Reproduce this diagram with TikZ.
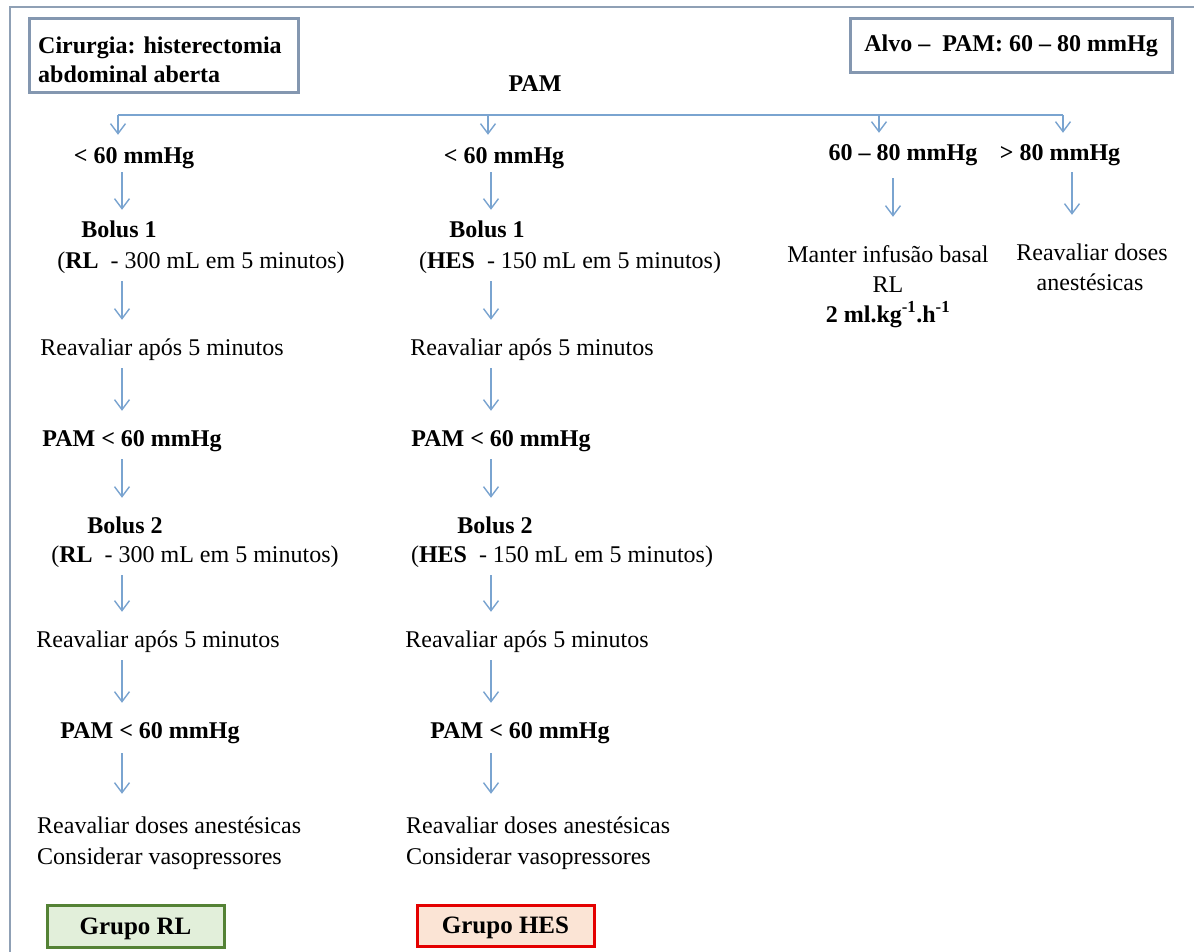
\documentclass[tikz,border=0pt]{standalone}
\usepackage{fontspec}
\setmainfont{Liberation Serif}
\usetikzlibrary{arrows.meta}
\definecolor{framec}{RGB}{143,160,181}
\definecolor{boxc}{RGB}{132,151,176}
\definecolor{arrc}{RGB}{122,164,208}
\definecolor{greenb}{RGB}{84,130,53}
\definecolor{greenf}{RGB}{226,239,218}
\definecolor{redb}{RGB}{228,0,0}
\definecolor{redf}{RGB}{251,228,213}
\tikzset{
  txt/.style={inner sep=0pt, text height=17pt, text depth=5pt, anchor=base, font=\fontsize{24}{29}\selectfont},
  btxt/.style={txt, font=\fontsize{24}{29}\selectfont\bfseries},
  topbox/.style={draw=boxc, line width=3pt, inner sep=0pt, font=\fontsize{24}{29}\selectfont\bfseries},
  grpbox/.style={line width=3pt, inner sep=0pt, text height=16pt, text depth=0pt, font=\fontsize{25}{29}\selectfont\bfseries},
  conn/.style={draw=arrc, line width=1.4pt},
  arr/.style={conn, -{Straight Barb[length=10pt,width=15pt]}, shorten <=8pt, shorten >=18pt}
}
\begin{document}
\begin{tikzpicture}[x=1pt,y=-1pt]
\useasboundingbox (0,0) rectangle (1194,951);
\fill[white] (0,0) rectangle (1194,951);
% outer frame (top and left edges)
\draw[framec, line width=2pt] (1196,7) -- (9.5,7) -- (9.5,953);

% top boxes
\node[topbox, minimum width=269pt, minimum height=74pt] (surgbox) at (163.5,55) {};
\node[btxt, anchor=base west] (surg1) at (38,53) {Cirurgia: histerectomia};
\node[btxt, anchor=base west] (surg2) at (38,82) {abdominal aberta};
\node[topbox, minimum width=322pt, minimum height=54pt, text height=17pt, text depth=5pt] (alvo) at (1011,45) {Alvo –\ \ PAM: 60 – 80 mmHg};
\node[btxt] (pam) at (535,91) {PAM};

% column x positions
\coordinate (cL) at (122,0);
\coordinate (cM) at (491,0);
\coordinate (cR1) at (893,0);
\coordinate (cR2) at (1072,0);
\coordinate (hL) at (118,115);
\coordinate (hM) at (488,115);
\coordinate (h3) at (879,115);
\coordinate (hR) at (1063,115);

% left column (RL)
\node[btxt] (lt60L) at (134,163) {< 60 mmHg};
\node[btxt] (b1L) at (119,237) {Bolus 1};
\node[txt] (rl1L) at (201,268) {(\textbf{RL}\ \ - 300 mL em 5 minutos)};
\node[txt] (reav1L) at (162,355) {Reavaliar após 5 minutos};
\node[btxt] (pam1L) at (132,446) {PAM < 60 mmHg};
\node[btxt] (b2L) at (125,533) {Bolus 2};
\node[txt] (rl2L) at (195,562) {(\textbf{RL}\ \ - 300 mL em 5 minutos)};
\node[txt] (reav2L) at (158,647) {Reavaliar após 5 minutos};
\node[btxt] (pam2L) at (150,738) {PAM < 60 mmHg};
\node[txt, anchor=base west] (fin1L) at (37,833) {Reavaliar doses anestésicas};
\node[txt, anchor=base west] (fin2L) at (37,864) {Considerar vasopressores};
\node[grpbox, draw=greenb, fill=greenf, minimum width=177pt, minimum height=42pt] (grpRL) at (135.5,926) {Grupo RL};

% middle column (HES)
\node[btxt] (lt60M) at (504,163) {< 60 mmHg};
\node[btxt] (b1M) at (487,237) {Bolus 1};
\node[txt] (hes1M) at (570,268) {(\textbf{HES}\ \ - 150 mL em 5 minutos)};
\node[txt] (reav1M) at (532,355) {Reavaliar após 5 minutos};
\node[btxt] (pam1M) at (501,446) {PAM < 60 mmHg};
\node[btxt] (b2M) at (495,533) {Bolus 2};
\node[txt] (hes2M) at (562,562) {(\textbf{HES}\ \ - 150 mL em 5 minutos)};
\node[txt] (reav2M) at (527,647) {Reavaliar após 5 minutos};
\node[btxt] (pam2M) at (520,738) {PAM < 60 mmHg};
\node[txt, anchor=base west] (fin1M) at (406,833) {Reavaliar doses anestésicas};
\node[txt, anchor=base west] (fin2M) at (406,864) {Considerar vasopressores};
\node[grpbox, draw=redb, fill=redf, minimum width=177pt, minimum height=41pt] (grpHES) at (505.5,925.5) {Grupo HES};

% right columns
\node[btxt] (r6080) at (903,160) {60 – 80 mmHg};
\node[btxt] (r80) at (1060,160) {> 80 mmHg};
\node[txt] (man1) at (888,262) {Manter infusão basal};
\node[txt] (man2) at (888,292) {RL};
\node[btxt] (man3) at (888,322) {2 ml.kg\textsuperscript{-1}.h\textsuperscript{-1}};
\node[txt] (rd1) at (1092,260) {Reavaliar doses};
\node[txt] (rd2) at (1090,290) {anestésicas};

% top distribution line
\draw[conn] (hL) -- (hR);
\draw[arr, shorten <=0pt, shorten >=11pt] (hL) -- (lt60L.north -| hL);
\draw[arr, shorten <=0pt, shorten >=11pt] (hM) -- (lt60M.north -| hM);
\draw[arr, shorten <=0pt, shorten >=10pt] (h3) -- (r6080.north -| h3);
\draw[arr, shorten <=0pt, shorten >=10pt] (hR) -- (r80.north -| hR);

% left column arrows
\draw[arr, shorten <=4pt, shorten >=10pt] (lt60L.south -| cL) -- (b1L.north -| cL);
\draw[arr] (rl1L.south -| cL) -- (reav1L.north -| cL);
\draw[arr] (reav1L.south -| cL) -- (pam1L.north -| cL);
\draw[arr] (pam1L.south -| cL) -- (b2L.north -| cL);
\draw[arr] (rl2L.south -| cL) -- (reav2L.north -| cL);
\draw[arr] (reav2L.south -| cL) -- (pam2L.north -| cL);
\draw[arr, shorten <=10pt, shorten >=22pt] (pam2L.south -| cL) -- (fin1L.north -| cL);

% middle column arrows
\draw[arr, shorten <=4pt, shorten >=10pt] (lt60M.south -| cM) -- (b1M.north -| cM);
\draw[arr] (hes1M.south -| cM) -- (reav1M.north -| cM);
\draw[arr] (reav1M.south -| cM) -- (pam1M.north -| cM);
\draw[arr] (pam1M.south -| cM) -- (b2M.north -| cM);
\draw[arr] (hes2M.south -| cM) -- (reav2M.north -| cM);
\draw[arr] (reav2M.south -| cM) -- (pam2M.north -| cM);
\draw[arr, shorten <=10pt, shorten >=22pt] (pam2M.south -| cM) -- (fin1M.north -| cM);

% right column arrows
\draw[arr, shorten <=13pt, shorten >=28pt] (r6080.south -| cR1) -- (man1.north -| cR1);
\draw[arr, shorten <=7pt, shorten >=28pt] (r80.south -| cR2) -- (rd1.north -| cR2);
\end{tikzpicture}
\end{document}
